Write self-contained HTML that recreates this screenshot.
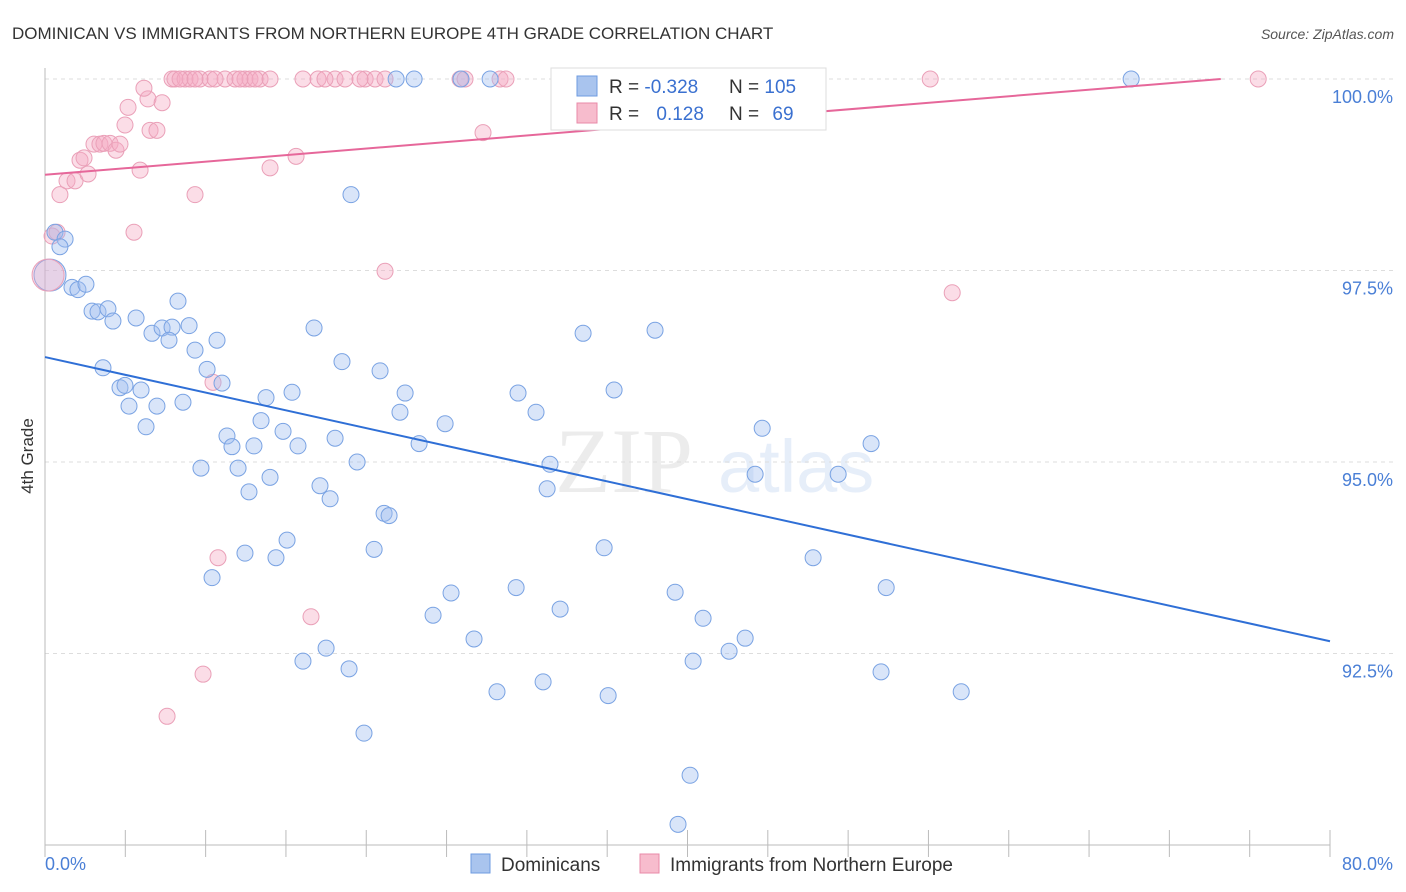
<!DOCTYPE html>
<html><head><meta charset="utf-8"><style>
body{margin:0;background:#fff;font-family:"Liberation Sans",sans-serif;}
svg{display:block}
</style></head><body>
<svg id="chart" width="1406" height="892" viewBox="0 0 1406 892">
<text x="12" y="39" font-size="17" fill="#333">DOMINICAN VS IMMIGRANTS FROM NORTHERN EUROPE 4TH GRADE CORRELATION CHART</text>
<text x="1394" y="39" font-size="14" fill="#555" font-style="italic" text-anchor="end">Source: ZipAtlas.com</text>
<text x="33" y="456" font-size="17" fill="#333" transform="rotate(-90 33 456)" text-anchor="middle">4th Grade</text>
<g opacity="0.13">
<text x="555" y="492" font-size="92" font-family="Liberation Serif,serif" fill="#777">ZIP</text>
<text x="718" y="492" font-size="74" fill="#4a7fd6">atlas</text>
</g>
<g id="grid"></g>
<g id="axes"></g>
<g id="pts"></g>
<g id="trend"></g>
<g>
<rect x="551" y="68" width="275" height="62" fill="#fff" stroke="#ddd"/>
<rect x="577" y="76" width="20" height="20" fill="#a9c4ee" stroke="#6e9be0"/>
<rect x="577" y="103" width="20" height="20" fill="#f7bccd" stroke="#e88aa8"/>
<text x="609" y="93" font-size="19" fill="#333">R = <tspan fill="#3a70d0">-0.328</tspan></text>
<text x="729" y="93" font-size="19" fill="#333">N = <tspan fill="#3a70d0">105</tspan></text>
<text x="609" y="120" font-size="19" fill="#333">R = <tspan fill="#3a70d0" dx="12">0.128</tspan></text>
<text x="729" y="120" font-size="19" fill="#333">N = <tspan fill="#3a70d0" dx="8">69</tspan></text>
</g>
<g>
<rect x="471" y="854" width="19" height="19" fill="#a9c4ee" stroke="#6e9be0"/>
<text x="501" y="871" font-size="19" fill="#333">Dominicans</text>
<rect x="640" y="854" width="19" height="19" fill="#f7bccd" stroke="#e88aa8"/>
<text x="670" y="871" font-size="19" fill="#333">Immigrants from Northern Europe</text>
</g>
</svg>
<script>
const yTicks=[100,97.5,95,92.5];
const yTickLabels=["100.0%","97.5%","95.0%","92.5%"];
const xTicks=[0,10,20,30,40,50,60,70,80];
const xMinorTicks=[5,15,25,35,45,55,65,75];
const xTickLabels=["0.0%","80.0%"];
const blueX=[0.62,1.25,0.93,1.68,2.05,2.55,2.93,3.30,3.92,4.23,5.67,6.66,7.29,7.91,7.72,8.28,8.97,9.34,10.71,10.09,11.02,3.61,4.67,4.98,5.98,5.23,6.97,8.59,6.29,11.33,11.64,13.01,13.45,13.76,14.82,15.38,15.75,9.71,12.02,14.01,12.70,17.12,17.75,18.06,19.43,16.75,18.49,20.86,22.42,22.10,23.29,24.91,29.45,30.57,35.43,33.50,37.98,31.44,31.26,21.11,21.42,44.65,44.21,49.38,51.43,12.45,10.40,14.38,15.07,20.49,34.81,47.82,52.37,25.28,29.33,24.16,32.07,39.23,40.97,26.71,17.50,16.06,18.93,28.14,31.01,35.06,40.35,42.59,43.59,52.05,57.04,19.86,40.16,39.41,19.05,21.86,22.98,25.90,27.71,32.50,43.65,67.62];
const blueY=[98.00,97.91,97.81,97.28,97.25,97.32,96.97,96.96,97.00,96.84,96.88,96.68,96.75,96.76,96.59,97.10,96.78,96.46,96.59,96.21,96.03,96.23,95.97,96.00,95.94,95.73,95.73,95.78,95.46,95.34,95.20,95.21,95.54,95.84,95.40,95.91,95.21,94.92,94.92,94.80,94.61,94.69,94.52,95.31,95.00,96.75,96.31,96.19,95.90,95.65,95.24,95.50,95.90,95.65,95.94,96.68,96.72,94.97,94.65,94.33,94.30,95.44,94.84,94.84,95.24,93.81,93.49,93.75,93.98,93.86,93.88,93.75,93.36,93.29,93.36,93.00,93.08,93.30,92.96,92.69,92.57,92.40,92.30,92.00,92.13,91.95,92.40,92.53,92.70,92.26,92.00,91.46,90.91,90.27,98.49,100,100,100,100,100,100,100];
const pinkX=[0.44,0.93,1.37,1.87,2.68,2.18,2.43,3.05,3.42,3.67,4.05,4.42,4.67,5.92,4.98,5.17,6.41,6.16,7.29,6.54,6.97,7.91,8.09,8.72,9.03,9.65,10.27,11.21,11.83,12.45,12.76,13.39,14.01,16.06,17.00,18.06,18.68,19.93,20.55,21.17,25.84,28.33,28.70,55.11,75.53,8.41,9.34,10.59,12.14,13.08,17.43,19.61,26.15,9.34,5.54,14.01,15.63,27.27,21.17,56.48,10.46,10.77,16.56,9.84,7.60,0.75];
const pinkY=[97.95,98.49,98.67,98.67,98.76,98.94,98.97,99.15,99.15,99.16,99.16,99.07,99.15,98.81,99.40,99.63,99.74,99.88,99.69,99.33,99.33,100,100,100,100,100,100,100,100,100,100,100,100,100,100,100,100,100,100,100,100,100,100,100,100,100,100,100,100,100,100,100,100,98.49,98.00,98.84,98.99,99.30,97.49,97.21,96.04,93.75,92.98,92.23,91.68,98.00];
const bigX=[0.31,0.19];
const bigY=[97.44,97.44];
const blueTrend=[96.37,92.66];   // y at x=0 and x=80
const pinkTrend=[98.75,100];     // y at x=0 and x=73.2
const pinkTrendEndX=73.2;

const X0=45,X1=1330,Y100=79,PXPCT=76.6;
const sx=v=>X0+(v/80)*(X1-X0);
const sy=v=>Y100+(100-v)*PXPCT;
const NS="http://www.w3.org/2000/svg";
function mk(parent,tag,attrs){const e=document.createElementNS(NS,tag);for(const k in attrs)e.setAttribute(k,attrs[k]);parent.appendChild(e);return e;}
const grid=document.getElementById('grid'),axes=document.getElementById('axes'),pts=document.getElementById('pts'),trend=document.getElementById('trend');
yTicks.forEach((t,i)=>{
  const l=mk(grid,'line',{x1:X0,x2:1395,y1:sy(t),y2:sy(t),stroke:'#ddd','stroke-dasharray':'4,4'});
  
  
  const tx=mk(axes,'text',{x:1393,y:sy(t)+24,'font-size':18,fill:'#4a7fd6','text-anchor':'end'});
  tx.textContent=yTickLabels[i];
  
  
});
const ax=mk(axes,'line',{x1:X0,x2:X1,y1:845,y2:845,stroke:'#bbb'});


const ay=mk(axes,'line',{x1:X0,x2:X0,y1:68,y2:845,stroke:'#bbb'});


xTicks.concat(xMinorTicks).forEach(t=>{
  const l=mk(axes,'line',{x1:sx(t),x2:sx(t),y1:830,y2:857,stroke:'#bbb'});
  
  
});
const xl0=mk(axes,'text',{x:45,y:870,'font-size':18,fill:'#4a7fd6'});
xl0.textContent=xTickLabels[0];


const xl1=mk(axes,'text',{x:1393,y:870,'font-size':18,fill:'#4a7fd6','text-anchor':'end'});
xl1.textContent=xTickLabels[1];


pinkX.forEach((x,i)=>{
  const c=mk(pts,'circle',{cx:sx(x),cy:sy(pinkY[i]),r:8,fill:'rgba(245,170,195,0.4)',stroke:'#eaa0b8','stroke-width':1});
  
  
});
blueX.forEach((x,i)=>{
  const c=mk(pts,'circle',{cx:sx(x),cy:sy(blueY[i]),r:8,fill:'rgba(160,190,240,0.4)',stroke:'#7aa3e3','stroke-width':1});
  
  
});
bigX.forEach((x,i)=>{
  const c=mk(pts,'circle',{cx:sx(x),cy:sy(bigY[i]),r:16,fill:i?'rgba(245,170,195,0.35)':'rgba(160,190,240,0.35)',stroke:i?'#eaa0b8':'#7aa3e3'});
  
  
});
const bl=mk(trend,'line',{x1:sx(0),y1:sy(blueTrend[0]),x2:sx(80),y2:sy(blueTrend[1]),stroke:'#2f6fd6','stroke-width':2});


const pl=mk(trend,'line',{x1:sx(0),y1:sy(pinkTrend[0]),x2:sx(pinkTrendEndX),y2:sy(pinkTrend[1]),stroke:'#e6679a','stroke-width':2});


</script>
</body></html>
